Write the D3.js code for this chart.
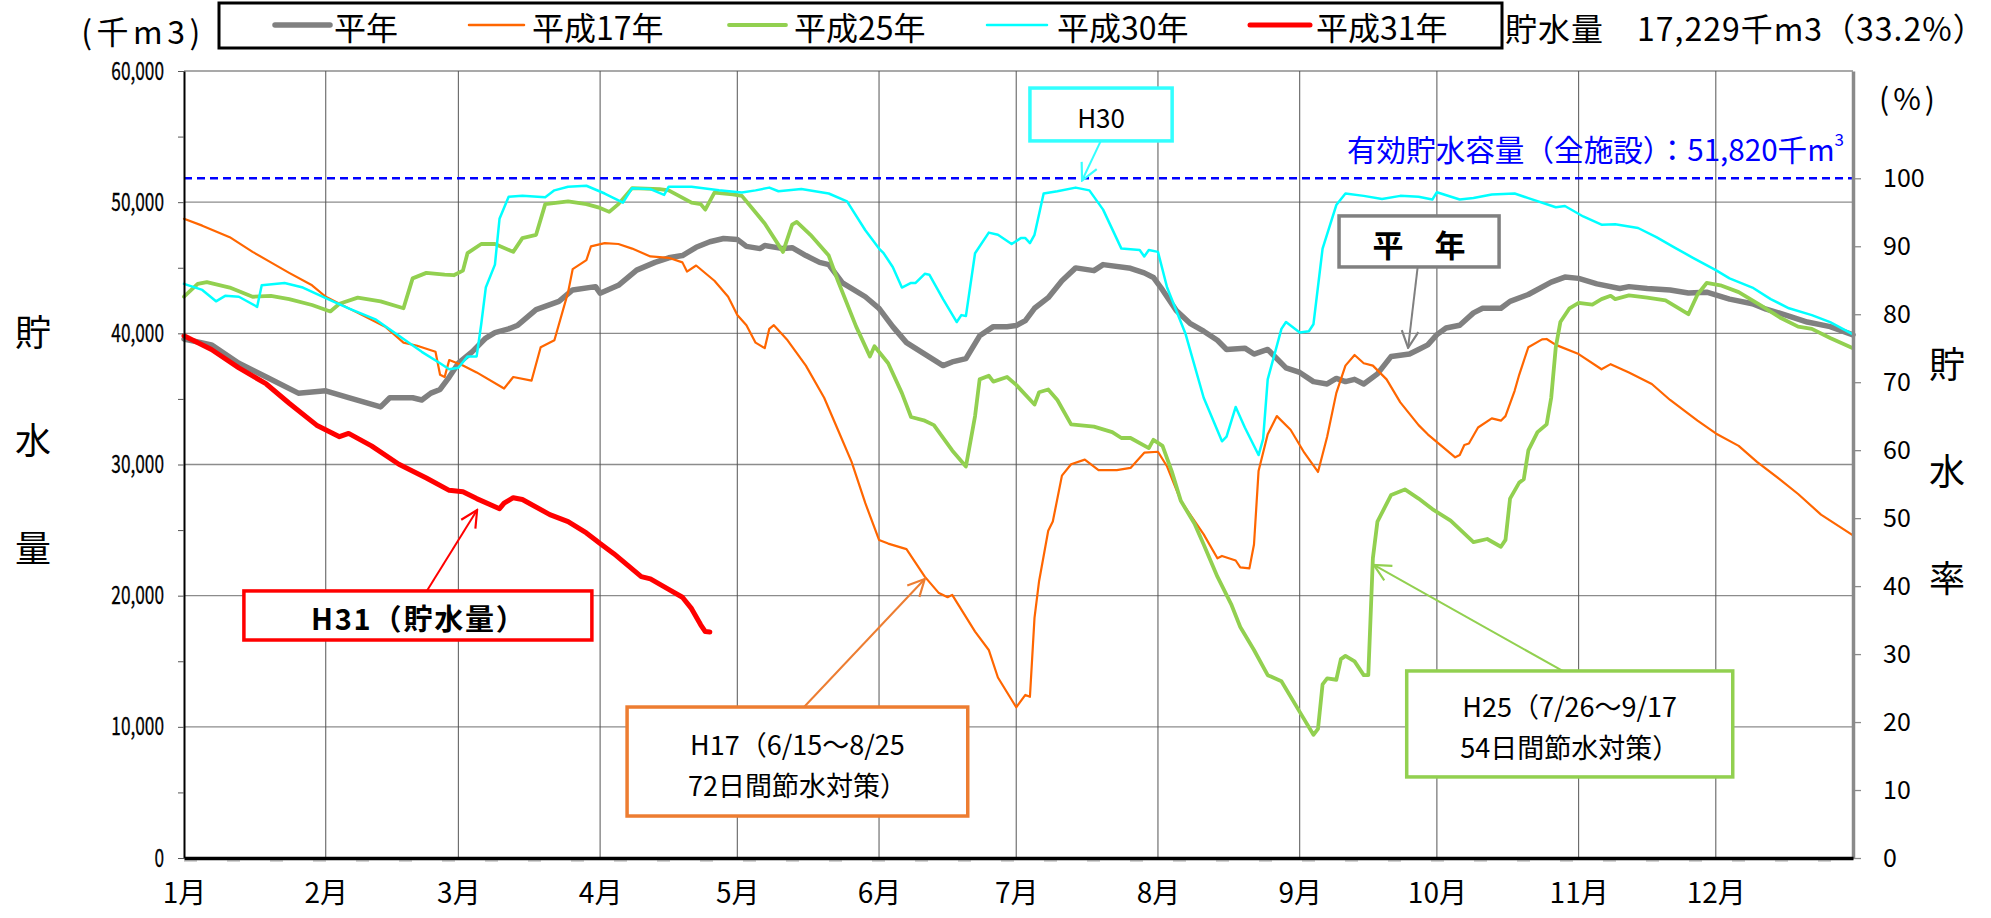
<!DOCTYPE html>
<html><head><meta charset="utf-8">
<script src="https://cdn.jsdelivr.net/npm/d3@7"></script>
<style>
html,body{margin:0;padding:0;background:#fff;}
svg{display:block;}
text{font-family:"Noto Sans CJK JP","Noto Sans",sans-serif;}
</style></head><body>
<svg id="chart" width="1991" height="918"></svg>
<script>
// ---------- data ----------
const months = ["1月","2月","3月","4月","5月","6月","7月","8月","9月","10月","11月","12月"];
const monthStartDays = [0,31,60,91,121,152,182,213,244,274,305,335];
const leftTicks = [0,10000,20000,30000,40000,50000,60000];
const rightTicks = [0,10,20,30,40,50,60,70,80,90,100];
const capacity = 51820;
const seriesNames = ["平年","平成17年","平成25年","平成30年","平成31年"];
const seriesColors = ["#808080","#FF6600","#92D050","#00FFFF","#FF0000"];

// [day of year (0 = 1/1), storage (千m3)]
const heinen = [[0,39570],[6,39120],[12,37720],[18,36670],[25,35440],[31,35620],[36,35090],[43,34390],[45,35090],[50,35090],[52,34920],[54,35440],[56,35720],[58,36670],[60,37720],[63,38590],[66,39640],[68,40060],[71,40340],[73,40620],[77,41810],[82,42440],[85,43310],[90,43560],[91,43060],[95,43660],[99,44820],[103,45410],[106,45760],[109,45930],[112,46560],[115,46980],[118,47230],[121,47160],[123,46630],[126,46460],[127,46700],[131,46460],[133,46530],[136,45930],[139,45410],[141,45240],[144,43840],[149,42790],[152,41910],[155,40510],[158,39290],[162,38420],[166,37540],[168,37820],[171,38070],[174,39810],[177,40510],[180,40510],[182,40590],[184,40970],[186,41910],[189,42720],[192,44010],[195,44990],[199,44780],[201,45240],[207,44960],[210,44610],[212,44260],[214,43310],[217,41740],[220,40760],[223,40160],[226,39470],[228,38770],[232,38870],[234,38420],[237,38770],[241,37370],[244,37020],[247,36320],[250,36140],[252,36560],[254,36320],[256,36490],[258,36140],[261,36910],[264,38240],[268,38420],[270,38770],[272,39120],[274,39900],[276,40410],[279,40620],[282,41560],[284,41910],[288,41910],[290,42440],[294,42960],[299,43910],[302,44290],[305,44190],[309,43770],[314,43420],[316,43560],[320,43420],[325,43310],[329,43070],[333,43140],[338,42610],[343,42260],[346,41840],[351,41320],[355,40860],[360,40510],[365,39880]];

const h17 = [[0,48730],[4,48210],[10,47330],[15,46210],[19,45410],[23,44610],[28,43660],[31,42790],[38,41560],[44,40510],[48,39290],[51,39050],[55,38590],[56,36840],[57,36670],[58,37960],[61,37540],[64,37020],[70,35790],[72,36670],[76,36390],[78,38940],[81,39470],[84,43140],[85,44890],[88,45580],[89,46630],[92,46880],[95,46810],[98,46460],[102,45860],[106,45760],[109,45410],[110,44710],[112,45170],[116,44010],[119,42790],[121,41390],[123,40620],[125,39290],[127,38870],[128,40340],[129,40620],[132,39470],[136,37540],[140,35090],[143,32650],[146,30200],[149,27050],[152,24250],[154,23970],[158,23550],[162,21450],[165,20230],[167,19880],[168,20060],[173,17260],[176,15860],[178,13760],[182,11490],[184,12430],[185,12290],[186,18310],[187,21100],[189,24950],[190,25650],[192,29150],[194,30020],[197,30370],[200,29570],[204,29570],[207,29740],[210,30900],[213,30970],[215,29850],[218,27230],[223,24670],[226,22850],[227,23030],[230,22680],[231,22150],[233,22080],[234,23900],[235,29500],[237,32300],[239,33690],[242,32650],[245,30900],[248,29430],[250,32120],[252,35440],[254,37540],[256,38350],[258,37720],[260,37540],[263,36490],[266,34740],[270,33000],[272,32300],[275,31420],[278,30550],[279,30720],[280,31490],[281,31600],[283,32820],[286,33520],[288,33340],[289,33690],[291,35620],[292,36840],[294,38940],[297,39540],[298,39570],[300,39120],[305,38420],[310,37260],[312,37650],[316,37020],[321,36140],[325,34920],[331,33340],[335,32370],[340,31420],[344,30200],[349,28870],[353,27750],[358,26180],[365,24600]];

const h25 = [[0,42790],[3,43770],[5,43910],[10,43490],[15,42790],[19,42860],[23,42610],[28,42160],[32,41670],[34,42260],[38,42720],[43,42440],[48,41910],[50,44190],[53,44610],[57,44470],[59,44430],[61,44780],[62,46110],[65,46810],[68,46810],[72,46210],[74,47260],[77,47510],[79,49850],[84,50060],[88,49850],[91,49560],[93,49260],[95,49850],[98,51070],[104,51000],[106,50900],[111,49960],[113,49850],[114,49430],[116,50730],[120,50590],[122,50480],[127,48380],[131,46210],[133,48280],[134,48490],[137,47510],[141,45930],[143,44010],[147,40510],[150,38240],[151,39010],[154,37720],[157,35440],[159,33620],[162,33340],[164,33000],[168,31070],[171,29850],[173,33690],[174,36490],[176,36770],[177,36320],[180,36670],[182,36070],[186,34570],[187,35510],[189,35720],[191,34920],[194,33060],[199,32890],[203,32470],[205,32020],[207,32020],[211,31250],[212,31880],[214,31420],[216,29500],[218,27230],[221,25480],[223,23900],[226,21450],[229,19360],[231,17610],[234,15860],[237,13940],[240,13480],[244,11140],[247,9390],[248,9850],[249,13240],[250,13690],[252,13590],[253,15160],[254,15410],[256,14990],[258,13940],[259,13940],[260,22850],[261,25650],[264,27680],[267,28100],[270,27400],[273,26600],[277,25720],[282,24080],[285,24320],[288,23730],[289,24250],[290,27400],[292,28620],[293,28870],[294,31070],[296,32470],[298,33060],[299,35090],[300,38940],[301,40860],[303,41910],[305,42330],[308,42190],[310,42610],[312,42860],[313,42610],[316,42890],[320,42720],[324,42510],[329,41460],[331,42960],[333,43840],[336,43660],[340,43140],[345,42090],[349,41210],[353,40510],[356,40340],[360,39640],[365,38870]];

const h30 = [[0,43770],[4,43310],[7,42440],[9,42860],[12,42790],[16,42020],[17,43660],[22,43840],[26,43490],[31,42680],[36,41910],[42,41040],[47,39810],[52,38590],[56,37720],[58,37260],[60,37370],[62,38240],[64,38240],[65,40690],[66,43490],[68,45240],[69,48730],[71,50410],[74,50480],[79,50380],[81,50900],[84,51180],[88,51250],[92,50660],[96,49960],[98,51070],[102,51000],[105,50550],[106,51180],[111,51180],[117,50900],[122,50730],[125,50900],[128,51110],[130,50830],[135,51000],[141,50660],[145,50060],[149,47860],[152,46460],[153,46110],[155,45060],[157,43490],[159,43840],[160,43840],[162,44540],[163,44470],[166,42610],[169,40860],[170,41390],[171,41320],[173,46110],[176,47680],[178,47510],[181,46810],[183,47260],[184,47260],[185,46880],[186,47510],[188,50660],[191,50830],[195,51110],[198,50900],[201,49430],[205,46460],[209,46350],[210,45860],[211,46350],[213,46210],[215,43490],[219,39990],[223,35090],[227,31770],[228,32120],[230,34390],[232,32820],[235,30720],[236,31950],[237,36490],[240,40340],[241,40860],[244,40060],[246,40160],[247,40690],[249,46460],[252,49780],[254,50660],[258,50480],[262,50240],[266,50480],[270,50410],[273,50200],[274,50760],[279,50200],[282,50310],[286,50590],[291,50660],[294,50310],[300,49610],[302,49710],[306,48910],[310,48280],[313,48310],[318,48030],[322,47330],[326,46530],[330,45760],[335,44820],[338,44190],[343,43490],[347,42610],[351,41910],[356,41390],[360,40860],[365,39920]];

const h31 = [[0,39810],[6,38770],[12,37370],[18,36140],[23,34670],[29,33000],[34,32120],[36,32370],[41,31420],[47,30020],[53,28970],[58,28030],[61,27920],[64,27400],[69,26630],[70,27050],[72,27470],[74,27330],[80,26180],[84,25650],[88,24780],[91,23970],[94,23200],[97,22330],[100,21450],[102,21280],[106,20480],[109,19880],[111,19010],[113,17780],[114,17260],[115,17230]];

const seriesData = [heinen, h17, h25, h30, h31];
const seriesWidths = [5.5, 2.2, 3.8, 2.5, 5];

// annotations: box in data coords (day range, value range), arrow from box edge to tip
const annotations = [
  {lines:["H30"], color:"#33FFFF", box:[185.0,216.1,58700,54670], from:[200.5,54670], tip:[196.4,51650], size:26, bold:false},
  {lines:["平　年"], color:"#808080", box:[252.6,287.6,48950,45060], from:[269.8,45060], tip:[267.7,38900], size:31, bold:true},
  {lines:["H31（貯水量）"], color:"#FF0000", box:[13.1,89.2,20360,16620], from:[53.1,20360], tip:[64.1,26530], size:29, bold:true, len:214},
  {lines:["H17（6/15～8/25","72日間節水対策）"], color:"#ED7D31", box:[96.9,171.4,11510,3200], from:[135.6,11510], tip:[162.0,21270], size:27, bold:false},
  {lines:["H25（7/26～9/17","54日間節水対策）"], color:"#92D050", box:[267.4,338.7,14260,6180], from:[301.5,14260], tip:[260.2,22340], size:27, bold:false}
];

// ---------- layout ----------
const M = {left:184, right:1853, top:71, bottom:858};
const svg = d3.select("#chart");
const x = d3.scaleLinear().domain([0,365]).range([M.left, M.right]);
const y = d3.scaleLinear().domain([0,60000]).range([M.bottom, M.top]);
const yPct = d3.scaleLinear().domain([0, 60000/capacity*100]).range([M.bottom, M.top]);

const defs = svg.append("defs");
annotations.forEach((a,i)=>{
  defs.append("marker").attr("id","arr"+i)
    .attr("viewBox","0 0 12 12").attr("refX",11).attr("refY",6)
    .attr("markerWidth",20).attr("markerHeight",20)
    .attr("markerUnits","userSpaceOnUse").attr("orient","auto")
    .append("path").attr("d","M1,1 L11,6 L1,11").attr("fill","none")
    .attr("stroke",a.color).attr("stroke-width",1.3);
});

// gridlines
const grid = svg.append("g");
grid.selectAll("line.h").data(leftTicks.filter(d=>d>0)).join("line").attr("class","h")
  .attr("x1",M.left).attr("x2",M.right).attr("y1",d=>y(d)).attr("y2",d=>y(d))
  .attr("stroke","#8c8c8c").attr("stroke-width",1.3);
grid.selectAll("line.v").data(monthStartDays.slice(1)).join("line").attr("class","v")
  .attr("x1",d=>x(d)).attr("x2",d=>x(d)).attr("y1",M.top).attr("y2",M.bottom)
  .attr("stroke","#555").attr("stroke-width",1);

// capacity line
svg.append("line").attr("x1",M.left).attr("x2",M.right).attr("y1",y(capacity)).attr("y2",y(capacity))
  .attr("stroke","#0000FF").attr("stroke-width",2.5).attr("stroke-dasharray","8,5");
const capText = svg.append("text").attr("x",1844).attr("y",y(capacity)-30).attr("text-anchor","end")
  .attr("dominant-baseline","central").attr("font-size",29.6).attr("fill","#0000FF");
capText.append("tspan").text("有効貯水容量（全施設）：51,820千m");
capText.append("tspan").text("3").attr("font-size",17).attr("dy",-10);

// series
const line = d3.line().x(d=>x(d[0])).y(d=>y(d[1]));
svg.append("g").selectAll("path").data(seriesData).join("path")
  .attr("d",line).attr("fill","none")
  .attr("stroke",(d,i)=>seriesColors[i]).attr("stroke-width",(d,i)=>seriesWidths[i])
  .attr("stroke-linejoin","round").attr("stroke-linecap","round");

// axes
const axL = svg.append("g").attr("transform",`translate(${M.left},0)`)
  .call(d3.axisLeft(y).tickValues(d3.range(0,60001,5000)).tickSize(6).tickSizeOuter(0).tickPadding(14)
    .tickFormat(d=> d%10000===0 ? d3.format(",")(d) : ""));
axL.select(".domain").attr("stroke","#000").attr("stroke-width",2);
axL.selectAll(".tick line").attr("stroke","#555");
axL.selectAll("text").attr("font-family","'Liberation Sans'").attr("font-size",25).attr("fill","#000")
  .attr("stroke","#000").attr("stroke-width",0.3)
  .each(function(){ const w=this.getComputedTextLength(); if(w>0){ d3.select(this).attr("textLength",w*0.69).attr("lengthAdjust","spacingAndGlyphs"); }});

const axR = svg.append("g").attr("transform",`translate(${M.right},0)`)
  .call(d3.axisRight(yPct).tickValues(rightTicks).tickSize(8).tickSizeOuter(0).tickPadding(22));
axR.select(".domain").attr("stroke","#8a8a8a").attr("stroke-width",3.5);
axR.selectAll(".tick line").attr("stroke","#8a8a8a").attr("stroke-width",1.3);
axR.selectAll("text").attr("font-family","DejaVu Sans").attr("font-size",25).attr("fill","#000");

// faint dashed secondary axis under the bottom axis
svg.append("line").attr("x1",M.left).attr("x2",M.right).attr("y1",M.bottom+3).attr("y2",M.bottom+3)
  .attr("stroke","#aaa").attr("stroke-width",1).attr("stroke-dasharray","13,30");

const axB = svg.append("g").attr("transform",`translate(0,${M.bottom})`)
  .call(d3.axisBottom(x).tickValues(monthStartDays).tickSize(0).tickSizeOuter(0).tickPadding(25)
    .tickFormat((d,i)=>months[i]));
axB.select(".domain").attr("stroke","#000").attr("stroke-width",3.5);
axB.selectAll("text").attr("font-family","'Noto Sans CJK JP'").attr("font-size",28).attr("fill","#000");

// axis titles
svg.append("text").attr("x",143).attr("y",30).attr("text-anchor","middle").attr("dominant-baseline","central")
  .attr("font-size",32).attr("letter-spacing",4.5).text("(千m3)");
svg.append("text").attr("x",1907).attr("y",97).attr("text-anchor","middle").attr("dominant-baseline","central")
  .attr("font-size",30).attr("textLength",56).attr("lengthAdjust","spacing").text("(%)");
svg.append("g").selectAll("text").data(["貯","水","量"]).join("text")
  .attr("x",33).attr("y",(d,i)=>330+i*108).attr("text-anchor","middle").attr("dominant-baseline","central")
  .attr("font-size",36).text(d=>d);
svg.append("g").selectAll("text").data(["貯","水","率"]).join("text")
  .attr("x",1947).attr("y",(d,i)=>362+i*107).attr("text-anchor","middle").attr("dominant-baseline","central")
  .attr("font-size",36).text(d=>d);

// legend
const lg = svg.append("g");
lg.append("rect").attr("x",219).attr("y",3).attr("width",1283).attr("height",45)
  .attr("fill","#fff").attr("stroke","#000").attr("stroke-width",3);
const legX = [[275,330,334],[469,524,532],[729,786,794],[987,1047,1057],[1250,1310,1316]];
seriesNames.forEach((n,i)=>{
  lg.append("line").attr("x1",legX[i][0]).attr("x2",legX[i][1]).attr("y1",25).attr("y2",25)
    .attr("stroke",seriesColors[i]).attr("stroke-width",Math.max(seriesWidths[i],2.5)).attr("stroke-linecap","round");
  lg.append("text").attr("x",legX[i][2]).attr("y",26).attr("dominant-baseline","central")
    .attr("font-size",32).text(n);
});
svg.append("text").attr("x",1505).attr("y",27).attr("dominant-baseline","central")
  .attr("font-size",32).attr("letter-spacing",1).text("貯水量　17,229千m3（33.2%）");

// annotations
const ag = svg.append("g");
annotations.forEach((a,i)=>{
  const bx = x(a.box[0]), bw = x(a.box[1])-x(a.box[0]);
  const by = y(a.box[2]), bh = y(a.box[3])-y(a.box[2]);
  ag.append("line").attr("x1",x(a.from[0])).attr("y1",y(a.from[1])).attr("x2",x(a.tip[0])).attr("y2",y(a.tip[1]))
    .attr("stroke",a.color).attr("stroke-width",2).attr("marker-end",`url(#arr${i})`);
  ag.append("rect").attr("x",bx).attr("y",by).attr("width",bw).attr("height",bh)
    .attr("fill","#fff").attr("stroke",a.color).attr("stroke-width",3.5);
  const n = a.lines.length, lh = 41;
  a.lines.forEach((t,j)=>{
    const tx = ag.append("text").attr("x",bx+bw/2).attr("y",by+bh/2+(j-(n-1)/2)*lh+2)
      .attr("text-anchor","middle").attr("dominant-baseline","central")
      .attr("font-size",a.size).attr("font-weight",a.bold?"bold":"normal").text(t);
    if(a.len) tx.attr("textLength",a.len).attr("lengthAdjust","spacing");
  });
});
</script>
</body></html>
